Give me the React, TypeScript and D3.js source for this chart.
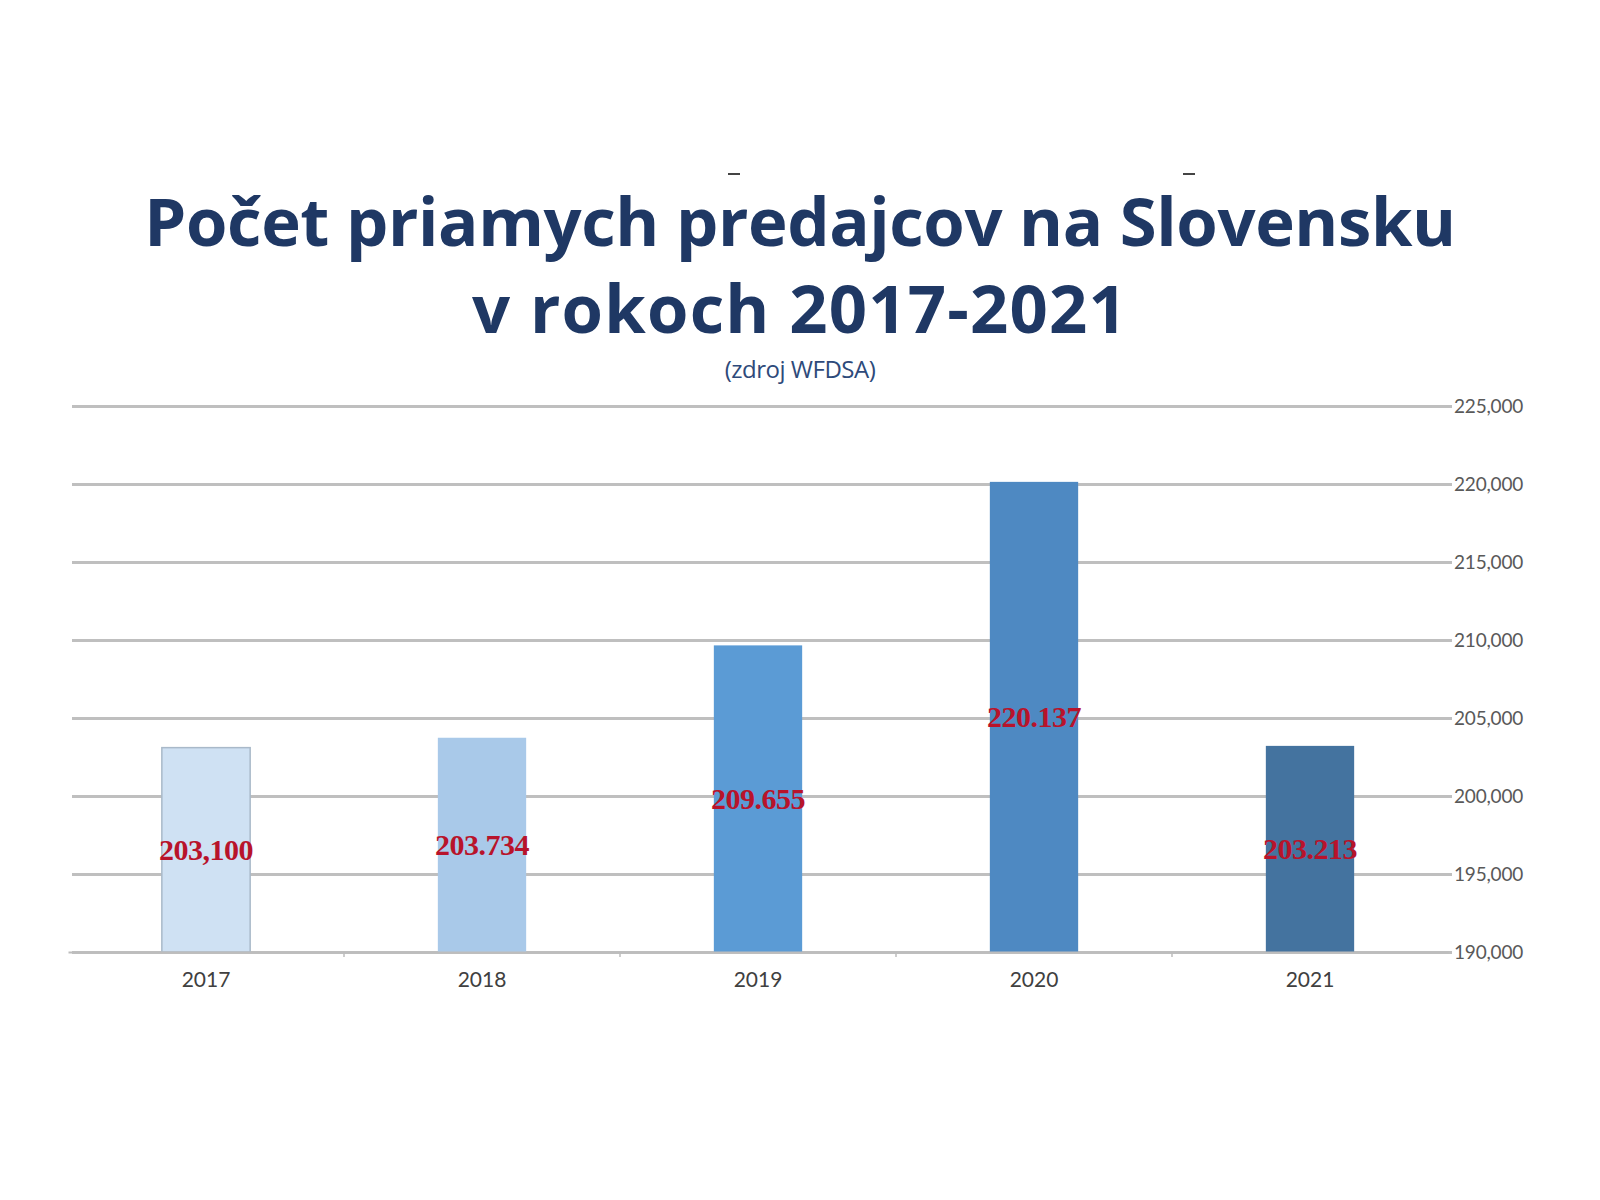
import { useEffect, useRef } from 'react';
import * as d3 from 'd3';

// Data
const years = ["2017", "2018", "2019", "2020", "2021"];
const sellers = [203100, 203734, 209655, 220137, 203213];
const valueLabels = ["203,100", "203.734", "209.655", "220.137", "203.213"];
const barColors = ["#cfe1f3", "#a9c9e9", "#5b9bd5", "#4e89c2", "#44739f"];
const yTicks = [190000, 195000, 200000, 205000, 210000, 215000, 220000, 225000];

const titleLines = ["Počet priamych predajcov na Slovensku", "v rokoch 2017-2021"];
const subtitle = "(zdroj WFDSA)";

export default function App() {
    const svgRef = useRef<SVGSVGElement>(null);

    useEffect(() => {
        if (!svgRef.current) return;
        const svg = d3.select(svgRef.current);
        svg.selectAll("*").remove();

        const width = 1600;
        const height = 1200;
        const plotLeft = 68;
        const plotRight = 1448;
        const plotTop = 406;
        const plotBottom = 952;

        const x = d3.scaleBand()
            .domain(years)
            .range([plotLeft, plotRight])
            .padding(0);

        const y = d3.scaleLinear()
            .domain([190000, 225000])
            .range([plotBottom, plotTop]);

        svg.attr("viewBox", [0, 0, width, height])
            .attr("width", width)
            .attr("height", height);

        svg.append("rect")
            .attr("width", width)
            .attr("height", height)
            .attr("fill", "#ffffff");

        // Title
        const title = svg.append("g")
            .style("font-family", "'Open Sans', Lato, sans-serif")
            .style("font-weight", "700")
            .attr("fill", "#1f3864")
            .attr("text-anchor", "middle");

        title.selectAll("text")
            .data(titleLines)
            .join("text")
            .attr("x", width / 2)
            .attr("y", (d, i) => 246 + i * 87)
            .style("font-size", "67px")
            .style("letter-spacing", (d, i) => i === 0 ? "-0.4px" : "1.2px")
            .text(d => d);

        // small stray dashes above the title
        svg.append("g")
            .selectAll("line")
            .data([734, 1189])
            .join("line")
            .attr("x1", d => d - 6)
            .attr("x2", d => d + 6)
            .attr("y1", 174)
            .attr("y2", 174)
            .attr("stroke", "#444")
            .attr("stroke-width", 2);

        svg.append("text")
            .attr("x", width / 2)
            .attr("y", 378)
            .attr("text-anchor", "middle")
            .attr("fill", "#2e4a7a")
            .style("font-family", "'Open Sans', Lato, sans-serif")
            .style("font-size", "24px")
            .style("letter-spacing", "-0.5px")
            .text(subtitle);

        // Gridlines + right axis
        svg.append("g")
            .attr("transform", `translate(${plotRight},0)`)
            .call(d3.axisRight(y)
                .tickValues(yTicks)
                .tickSize(-(plotRight - plotLeft))
                .tickPadding(6)
                .tickFormat(d => d3.format(",")(d as number)))
            .call(g => g.select(".domain").remove())
            .call(g => g.selectAll(".tick line")
                .attr("x2", 4 - (plotRight - plotLeft))
                .attr("x1", 4)
                .attr("stroke", "#bfbfbf")
                .attr("stroke-width", 2.8))
            .call(g => g.selectAll(".tick text")
                .attr("fill", "#595959")
                .style("font-family", "Lato, sans-serif")
                .style("font-size", "19px")
                .style("letter-spacing", "-0.2px"));

        // Bars
        const barW = x.bandwidth() * 0.32;
        svg.append("g")
            .selectAll("rect")
            .data(years)
            .join("rect")
            .attr("x", d => (x(d) || 0) + (x.bandwidth() - barW) / 2)
            .attr("width", barW)
            .attr("y", (d, i) => y(sellers[i]))
            .attr("height", (d, i) => y(190000) - y(sellers[i]))
            .attr("fill", (d, i) => barColors[i])
            .attr("stroke", (d, i) => i === 0 ? "#a9b9c9" : "none")
            .attr("stroke-width", 1.5);

        // Bottom axis
        svg.append("g")
            .attr("transform", `translate(0,${plotBottom})`)
            .call(d3.axisBottom(x).tickSize(0).tickPadding(20))
            .call(g => g.select(".domain")
                .attr("stroke", "#bdbdbd")
                .attr("stroke-width", 2))
            .call(g => g.selectAll(".tick text")
                .attr("fill", "#404040")
                .style("font-family", "Lato, sans-serif")
                .style("font-size", "21px"));

        svg.append("g")
            .selectAll("line")
            .data(years.slice(1))
            .join("line")
            .attr("x1", d => x(d) || 0)
            .attr("x2", d => x(d) || 0)
            .attr("y1", plotBottom)
            .attr("y2", plotBottom + 5)
            .attr("stroke", "#bdbdbd")
            .attr("stroke-width", 1.5);

        // Value labels centred in bars
        svg.append("g")
            .selectAll("text")
            .data(years)
            .join("text")
            .attr("x", d => (x(d) || 0) + x.bandwidth() / 2)
            .attr("y", (d, i) => (y(sellers[i]) + y(190000)) / 2)
            .attr("dy", "0.35em")
            .attr("text-anchor", "middle")
            .attr("fill", "#b8132b")
            .style("font-family", "'Liberation Serif', serif")
            .style("font-weight", "700")
            .style("font-size", "30px")
            .style("letter-spacing", "-0.5px")
            .text((d, i) => valueLabels[i]);
    }, []);

    return (
        <div style={{ position: "absolute", top: 0, left: 0 }}>
            <svg ref={svgRef}></svg>
        </div>
    );
}
